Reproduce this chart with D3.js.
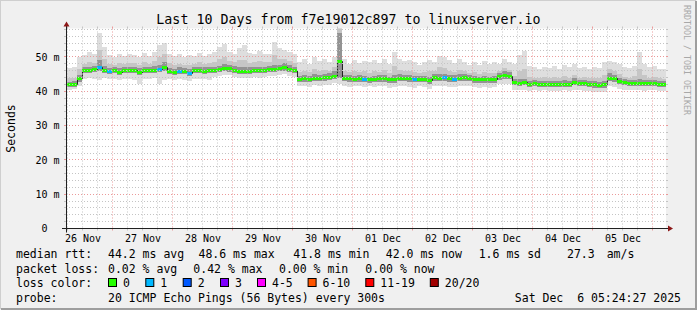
<!DOCTYPE html>
<html>
<head>
<meta charset="utf-8">
<script src="https://cdn.jsdelivr.net/npm/d3@7"></script>
<style>
  body { margin: 0; background: #fff; }
  svg text { font-family: "DejaVu Sans Mono", monospace; white-space: pre; }
</style>
</head>
<body>
<svg id="chart" width="697" height="310"></svg>
<script>
// samples every 2 hours, first one Nov 26 04:00 (values in ms)
var median = [
  42.2, 42.0, 42.1, 43.8, 46.0, 46.2, 46.3, 46.9, 46.2, 45.8, 46.0, 45.6,
  46.0, 46.0, 46.1, 45.6, 46.0, 46.0, 46.2, 46.4, 47.0, 45.7, 45.5, 45.9,
  45.7, 45.3, 46.0, 46.1, 45.9, 46.0, 46.0, 46.3, 46.7, 46.5, 46.2, 45.8,
  45.7, 45.8, 46.0, 46.0, 46.1, 46.3, 46.3, 46.6, 46.8, 46.4, 46.1, 43.4,
  43.6, 43.5, 43.8, 43.7, 43.9, 44.1, 44.2, 48.6, 43.8, 43.6, 43.5, 43.6,
  43.4, 43.3, 43.4, 43.6, 43.6, 43.3, 43.3, 43.8, 43.7, 43.6, 43.4, 43.5,
  43.4, 43.0, 43.9, 43.8, 43.9, 43.6, 43.5, 43.8, 43.9, 43.8, 43.3, 43.3,
  43.3, 43.3, 43.3, 44.2, 44.5, 44.4, 42.6, 42.4, 42.5, 42.1, 42.2, 42.0,
  42.1, 42.1, 42.0, 42.0, 42.1, 42.0, 42.7, 42.4, 42.2, 42.1, 41.9, 41.8,
  41.9, 43.8, 43.6, 42.8, 42.5, 42.3, 42.3, 42.4, 42.2, 42.3, 42.2, 42.1, 42.0
];
var smokeMax = [
  46.5, 46.8, 47.0, 50.0, 50.5, 51.5, 51.0, 57.0, 53.0, 50.5, 50.0, 50.8,
  50.2, 51.0, 50.5, 50.0, 51.2, 50.4, 51.5, 53.5, 54.2, 51.0, 50.2, 50.8,
  50.0, 50.5, 50.2, 51.2, 50.4, 50.8, 51.5, 53.0, 53.8, 51.5, 51.0, 52.5,
  53.5, 51.2, 51.0, 51.8, 51.0, 50.8, 54.3, 52.5, 52.0, 51.5, 50.8, 48.5,
  49.5, 48.0, 50.0, 48.8, 49.5, 48.5, 50.0, 58.6, 49.5, 48.0, 49.0, 48.3,
  48.8, 48.5, 49.0, 48.3, 49.5, 48.0, 51.4, 49.5, 48.8, 49.0, 48.5, 47.8,
  48.6, 49.2, 48.5, 50.4, 50.0, 49.0, 48.2, 49.5, 48.6, 47.8, 48.5, 47.6,
  48.8, 48.0, 48.4, 48.0, 49.5, 48.5, 48.0, 50.5, 51.6, 47.5, 47.0, 46.5,
  47.2, 46.8, 47.5, 46.5, 47.8, 47.0, 48.0, 46.8, 47.2, 46.5, 47.0, 46.8,
  48.5, 48.9, 48.5, 48.0, 47.0, 46.8, 47.5, 51.4, 48.0, 47.0, 47.5, 46.5, 46.5
];
var smokeHi = [
  44.0, 43.8, 44.0, 46.5, 48.0, 48.5, 48.3, 52.0, 49.5, 48.0, 47.8, 48.2,
  48.0, 48.3, 48.2, 47.8, 48.5, 48.0, 48.8, 50.0, 51.0, 48.2, 47.6, 48.0,
  47.8, 47.8, 48.0, 48.5, 48.0, 48.2, 48.4, 49.5, 50.0, 48.8, 48.5, 49.0,
  49.2, 48.3, 48.4, 48.8, 48.5, 48.6, 50.5, 49.5, 49.5, 48.8, 48.2, 45.5,
  46.0, 45.5, 46.5, 45.8, 46.2, 46.0, 47.0, 58.5, 46.0, 45.5, 45.8, 45.6,
  45.8, 45.4, 45.8, 45.5, 46.2, 45.2, 47.5, 46.2, 45.8, 46.0, 45.5, 45.2,
  45.6, 45.8, 45.8, 47.0, 46.8, 45.8, 45.6, 46.2, 46.0, 45.4, 45.5, 45.0,
  45.6, 45.2, 45.4, 46.0, 46.8, 46.2, 44.5, 46.0, 46.5, 44.2, 44.0, 43.8,
  44.2, 44.0, 44.3, 43.8, 44.5, 44.0, 44.8, 44.0, 44.2, 43.8, 44.0, 43.8,
  44.8, 46.5, 46.0, 45.0, 44.2, 44.0, 44.4, 46.5, 44.6, 44.0, 44.3, 43.8, 43.6
];
var smokeCore = [
  43.0, 42.8, 42.9, 44.8, 47.0, 47.2, 47.3, 49.0, 47.3, 46.8, 47.0, 46.8,
  47.0, 47.0, 47.1, 46.7, 47.2, 47.0, 47.4, 47.8, 48.5, 46.8, 46.6, 47.0,
  46.8, 46.5, 47.0, 47.2, 47.0, 47.1, 47.1, 47.5, 48.0, 47.6, 47.3, 47.0,
  47.0, 47.0, 47.1, 47.2, 47.2, 47.5, 47.8, 47.8, 48.2, 47.6, 47.2, 44.4,
  44.6, 44.5, 44.9, 44.7, 45.0, 45.2, 45.8, 57.0, 44.8, 44.6, 44.5, 44.6,
  44.5, 44.3, 44.5, 44.6, 44.7, 44.3, 44.8, 44.9, 44.8, 44.7, 44.5, 44.5,
  44.5, 44.2, 45.0, 45.0, 45.0, 44.7, 44.6, 45.0, 45.0, 44.8, 44.4, 44.3,
  44.4, 44.3, 44.4, 45.3, 45.8, 45.5, 43.6, 43.5, 43.6, 43.1, 43.2, 43.0,
  43.1, 43.1, 43.1, 43.0, 43.2, 43.0, 43.8, 43.4, 43.2, 43.1, 42.9, 42.8,
  43.0, 45.2, 44.8, 43.9, 43.5, 43.3, 43.3, 43.6, 43.2, 43.3, 43.2, 43.1, 43.0
];
var smokeLo = [
  41.4, 41.2, 41.3, 42.8, 45.2, 45.4, 45.5, 46.0, 45.4, 45.0, 45.2, 44.8,
  45.2, 45.2, 45.3, 44.8, 45.2, 45.2, 45.4, 45.5, 46.0, 44.9, 44.7, 45.1,
  44.9, 44.5, 45.2, 45.3, 45.1, 45.2, 45.3, 45.6, 45.9, 45.7, 45.4, 45.0,
  44.9, 45.0, 45.2, 45.2, 45.3, 45.5, 45.5, 45.8, 46.0, 45.6, 45.3, 42.6,
  42.8, 42.7, 43.0, 42.9, 43.1, 43.3, 43.6, 44.0, 43.0, 42.8, 42.7, 42.8,
  42.6, 42.5, 42.6, 42.8, 42.8, 42.5, 42.5, 43.0, 42.9, 42.8, 42.6, 42.7,
  42.6, 42.2, 43.1, 43.0, 43.1, 42.8, 42.7, 43.0, 43.1, 43.0, 42.5, 42.5,
  42.5, 42.5, 42.5, 43.4, 43.7, 43.6, 41.8, 41.6, 41.7, 41.3, 41.4, 41.2,
  41.3, 41.3, 41.2, 41.2, 41.3, 41.2, 41.9, 41.6, 41.4, 41.3, 41.1, 41.0,
  41.1, 43.0, 42.8, 42.0, 41.7, 41.5, 41.5, 41.6, 41.4, 41.5, 41.4, 41.3, 41.2
];
var smokeMin = [
  40.8, 40.5, 40.6, 41.5, 43.5, 43.8, 43.6, 43.4, 43.8, 43.5, 43.6, 43.2,
  43.5, 43.7, 43.4, 42.2, 43.6, 43.5, 43.8, 42.2, 43.4, 43.6, 43.3, 43.5,
  43.2, 43.0, 43.6, 43.7, 43.5, 43.4, 44.2, 44.5, 44.8, 44.6, 44.3, 44.0,
  43.8, 43.9, 44.2, 44.0, 44.3, 44.5, 44.4, 44.7, 44.9, 44.5, 44.2, 41.5,
  41.6, 41.3, 41.7, 41.5, 41.8, 41.9, 42.3, 42.0, 41.5, 41.2, 41.4, 41.5,
  41.3, 41.4, 41.2, 41.5, 41.4, 41.0, 41.2, 41.6, 41.5, 41.3, 41.1, 41.4,
  41.2, 40.8, 41.6, 41.5, 41.6, 41.3, 41.2, 41.5, 41.6, 41.5, 41.2, 41.0,
  41.2, 41.1, 41.3, 42.0, 42.2, 42.0, 40.5, 40.3, 40.5, 40.2, 40.4, 40.0,
  40.3, 40.2, 40.1, 40.0, 40.3, 40.1, 40.5, 40.3, 40.1, 40.2, 39.9, 39.7,
  39.8, 41.5, 41.3, 40.8, 40.5, 40.3, 40.4, 40.5, 40.2, 40.4, 40.3, 40.2, 40.0
];
// lost pings (of 20) per sample -> index into lossColors
var lossCount = [
  0, 0, 0, 0, 0, 0, 0, 1, 0, 1, 0, 0,
  0, 0, 0, 0, 0, 0, 0, 1, 0, 0, 0, 1,
  0, 1, 0, 0, 0, 0, 0, 0, 0, 0, 0, 0,
  0, 0, 0, 0, 0, 0, 0, 0, 0, 0, 0, 0,
  0, 0, 0, 0, 0, 0, 0, 0, 0, 0, 0, 0,
  1, 0, 0, 0, 0, 0, 0, 0, 0, 0, 1, 0,
  0, 0, 0, 0, 1, 0, 1, 0, 0, 0, 0, 0,
  0, 0, 0, 0, 0, 0, 0, 0, 0, 0, 0, 0,
  0, 0, 0, 0, 0, 0, 0, 0, 0, 0, 0, 0,
  0, 0, 0, 0, 0, 0, 0, 0, 0, 0, 0, 0, 0
];

var yTicks = [0, 10, 20, 30, 40, 50];
var lossLabels = ["0", "1", "2", "3", "4-5", "6-10", "11-19", "20/20"];
var lossColors = ["#26ff00", "#00b8ff", "#0059ff", "#7e00ff", "#ff00ff", "#ff5500", "#ff0000", "#a10000"];
var rttStats = ["44.2 ms avg", "48.6 ms max", "41.8 ms min", "42.0 ms now", "1.6 ms sd", "27.3", "am/s"];
var lossStats = ["0.02 % avg", "0.42 % max", "0.00 % min", "0.00 % now"];
var title = "Last 10 Days from f7e19012c897 to linuxserver.io";
var probeText = "20 ICMP Echo Pings (56 Bytes) every 300s";
var stampText = "Sat Dec  6 05:24:27 2025";

var x0 = 66, x1 = 666, yTop = 28.5, yBottom = 228.5;
var start = new Date(Date.UTC(2025, 10, 26, 5, 24, 27)),
    end = new Date(Date.UTC(2025, 11, 6, 5, 24, 27));
var firstSample = Date.UTC(2025, 10, 26, 4, 0, 0),
    stepMs = 2 * 3600 * 1000;

var x = d3.scaleUtc().domain([start, end]).range([x0, x1]);
var y = d3.scaleLinear().domain([0, 58.3]).range([yBottom, yTop]);

var rows = median.map(function(m, i) {
  return {t: new Date(firstSample + i * stepMs), med: m, max: smokeMax[i], hi: smokeHi[i],
          core: smokeCore[i], lo: smokeLo[i], min: smokeMin[i], loss: lossCount[i]};
});
// extra point so the last step gets drawn
var stepped = rows.concat([Object.assign({}, rows[rows.length - 1],
  {t: new Date(firstSample + rows.length * stepMs)})]);

var svg = d3.select('#chart');

// background + rrdtool style frame
svg.append('rect').attr('width', 697).attr('height', 310).attr('fill', '#f0f0f0');
svg.append('path').attr('d', 'M0,309V0H696').attr('fill', 'none').attr('stroke', '#cfcfcf').attr('stroke-width', 2);
svg.append('path').attr('d', 'M1,309H696V1').attr('fill', 'none').attr('stroke', '#9e9e9e').attr('stroke-width', 2);
svg.append('rect').attr('x', x0).attr('y', yTop).attr('width', x1 - x0).attr('height', yBottom - yTop).attr('fill', '#fff');

svg.append('clipPath').attr('id', 'plot')
  .append('rect').attr('x', x0).attr('y', yTop).attr('width', x1 - x0).attr('height', yBottom - yTop);

var plot = svg.append('g').attr('clip-path', 'url(#plot)');

function band(lo, hi) {
  return d3.area().curve(d3.curveStepAfter)
    .x(function(d) { return x(d.t); })
    .y0(function(d) { return y(d[lo]); })
    .y1(function(d) { return y(d[hi]); });
}

// smoke
plot.append('path').datum(stepped).attr('d', band('min', 'max')).attr('fill', '#dedede').attr('shape-rendering', 'crispEdges');
plot.append('path').datum(stepped).attr('d', band('lo', 'hi')).attr('fill', '#c6c6c6').attr('shape-rendering', 'crispEdges');
plot.append('path').datum(stepped).attr('d', band('lo', 'core')).attr('fill', '#939393').attr('shape-rendering', 'crispEdges');

// grid
var grid = svg.append('g');
function px(v) { return Math.floor(v) + 0.5; }

d3.range(2, 58.3, 2).forEach(function(v) {
  var major = v % 10 === 0;
  var c = major ? '#eb9a9a' : '#c4c4c4';
  var yy = px(y(v));
  grid.append('line').attr('x1', x0).attr('x2', x1).attr('y1', yy).attr('y2', yy)
    .attr('stroke', c).attr('stroke-dasharray', '1,2');
  grid.append('line').attr('x1', x0 - 2).attr('x2', x0).attr('y1', yy).attr('y2', yy).attr('stroke', c);
  grid.append('line').attr('x1', x1).attr('x2', x1 + 2).attr('y1', yy).attr('y2', yy).attr('stroke', c);
});

d3.utcHour.every(6).range(start, end).forEach(function(t) {
  var major = t.getUTCHours() === 0;
  var c = major ? '#eb9a9a' : '#c4c4c4';
  var xx = px(x(t));
  grid.append('line').attr('x1', xx).attr('x2', xx).attr('y1', yTop).attr('y2', yBottom)
    .attr('stroke', c).attr('stroke-dasharray', '1,2');
  grid.append('line').attr('x1', xx).attr('x2', xx).attr('y1', yTop - 2).attr('y2', yTop).attr('stroke', c);
  grid.append('line').attr('x1', xx).attr('x2', xx).attr('y1', yBottom).attr('y2', yBottom + 2).attr('stroke', c);
});

// median: thin dark line, then loss coloured band on top
plot.append('path').datum(stepped)
  .attr('d', d3.line().curve(d3.curveStepAfter)
    .x(function(d) { return x(d.t); })
    .y(function(d) { return px(y(d.med)); }))
  .attr('fill', 'none').attr('stroke', '#202020').attr('stroke-width', 1);

plot.selectAll('rect.med').data(rows).enter().append('rect')
  .attr('class', 'med')
  .attr('x', function(d) { return x(d.t); })
  .attr('width', function(d) { return x(new Date(+d.t + stepMs)) - x(d.t); })
  .attr('y', function(d) { return px(y(d.med)) - 1.5; })
  .attr('height', 3)
  .attr('fill', function(d) { return lossColors[d.loss]; })
  .attr('shape-rendering', 'crispEdges');

// axes
svg.append('line').attr('x1', x0 - 4).attr('x2', x1 + 4).attr('y1', yBottom).attr('y2', yBottom)
  .attr('stroke', '#202020');
svg.append('line').attr('x1', x0 + 0.5).attr('x2', x0 + 0.5).attr('y1', yBottom + 4).attr('y2', yTop - 4)
  .attr('stroke', '#202020');
svg.append('path').attr('d', 'M' + (x1 + 2) + ',' + (yBottom - 3) + 'L' + (x1 + 2) + ',' + (yBottom + 3) + 'L' + (x1 + 7) + ',' + yBottom + 'Z')
  .attr('fill', '#8c1717');
svg.append('path').attr('d', 'M' + (x0 - 2.5) + ',' + (yTop - 2) + 'L' + (x0 + 3.5) + ',' + (yTop - 2) + 'L' + (x0 + 0.5) + ',' + (yTop - 7) + 'Z')
  .attr('fill', '#8c1717');

var yAxis = d3.axisLeft(y).tickValues(yTicks).tickSize(0).tickPadding(6.5)
  .tickFormat(function(d) { return d === 0 ? '0' : d + ' m'; });
var gy = svg.append('g').attr('transform', 'translate(' + x0 + ',0)').call(yAxis);
gy.select('.domain').remove();
gy.attr('font-family', null).attr('font-size', 10);
gy.selectAll('text').attr('fill', '#000').attr('dx', function(d) { return d === 0 ? -12 : 0; });

var noons = d3.utcDay.range(new Date(Date.UTC(2025, 10, 26)), new Date(Date.UTC(2025, 11, 6)))
  .map(function(d) { return d3.utcHour.offset(d, 12); });
var xAxis = d3.axisBottom(x).tickValues(noons).tickSize(0).tickPadding(6)
  .tickFormat(d3.utcFormat('%d %b'));
var gx = svg.append('g').attr('transform', 'translate(0,' + yBottom + ')').call(xAxis);
gx.select('.domain').remove();
gx.attr('font-family', null).attr('font-size', 10);
gx.selectAll('text').attr('fill', '#000');

// titles
svg.append('text').attr('x', 348.5).attr('y', 24).attr('text-anchor', 'middle')
  .attr('font-size', 13.3).text(title);
svg.append('text').attr('transform', 'translate(15,128.5) rotate(-90)').attr('text-anchor', 'middle')
  .attr('font-size', 11.5).text('Seconds');
svg.append('text').attr('transform', 'translate(684,5) rotate(90)')
  .attr('font-size', 8.3).attr('fill', '#a8a8a8').text('RRDTOOL / TOBI OETIKER');

// legend
var lg = svg.append('g').attr('font-size', 11.5);
var rowY = [258, 272.5, 287, 301.5];
lg.append('text').attr('x', 16).attr('y', rowY[0]).text('median rtt:');
var rttX = [108, 198.5, 293.3, 385.8, 478.7, 567, 606.7];
rttStats.forEach(function(s, i) { lg.append('text').attr('x', rttX[i]).attr('y', rowY[0]).text(s); });

lg.append('text').attr('x', 16).attr('y', rowY[1]).text('packet loss:');
var lossX = [108, 193.3, 279, 365.3];
lossStats.forEach(function(s, i) { lg.append('text').attr('x', lossX[i]).attr('y', rowY[1]).text(s); });

lg.append('text').attr('x', 16).attr('y', rowY[2]).text('loss color:');
var boxX = [108, 145.3, 182.7, 220, 257, 307.6, 365.3, 429.8];
lossLabels.forEach(function(s, i) {
  lg.append('rect').attr('x', boxX[i] + 0.5).attr('y', rowY[2] - 8.5).attr('width', 8).attr('height', 8)
    .attr('fill', lossColors[i]).attr('stroke', '#000');
  lg.append('text').attr('x', boxX[i] + 15).attr('y', rowY[2]).text(s);
});

lg.append('text').attr('x', 16).attr('y', rowY[3]).text('probe:');
lg.append('text').attr('x', 108).attr('y', rowY[3]).text(probeText);
lg.append('text').attr('x', 681).attr('y', rowY[3]).attr('text-anchor', 'end').text(stampText);
</script>
</body>
</html>
